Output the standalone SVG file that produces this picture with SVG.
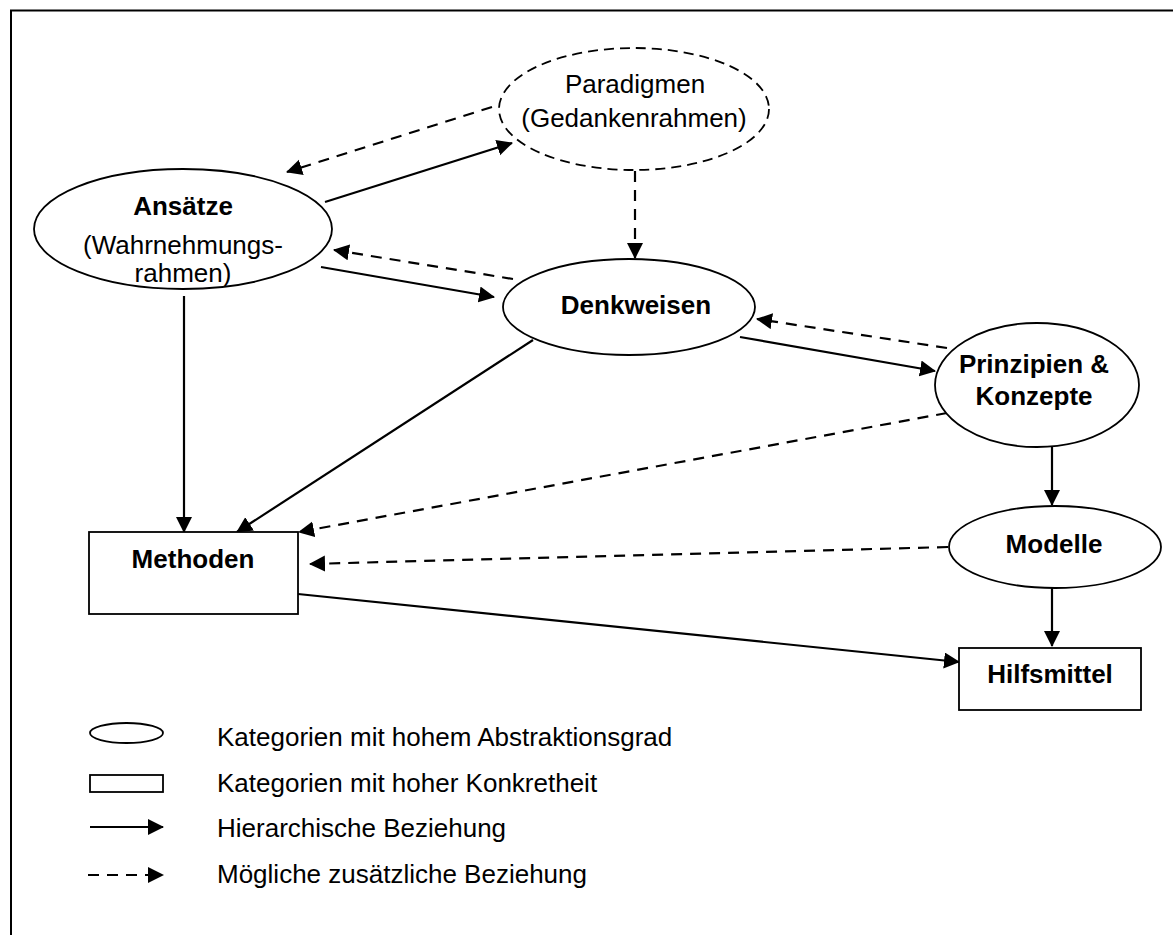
<svg xmlns="http://www.w3.org/2000/svg" width="1173" height="935" viewBox="0 0 1173 935">
  <style>
    text { font-family: "Liberation Sans", Arial, sans-serif; font-size: 26px; fill: #000; }
    .b { font-weight: bold; }
    .m { text-anchor: middle; }
    .node { fill: #fff; stroke: #000; stroke-width: 1.8; }
    .dashnode { fill: #fff; stroke: #000; stroke-width: 1.8; stroke-dasharray: 10 6; }
    .solid { fill: none; stroke: #000; stroke-width: 2.2; marker-end: url(#head); }
    .dash { fill: none; stroke: #000; stroke-width: 2.2; stroke-dasharray: 11 8; marker-end: url(#head); }
  </style>
  <defs>
    <marker id="head" markerUnits="userSpaceOnUse" markerWidth="17" markerHeight="17" refX="15" refY="8" orient="auto">
      <path d="M0,0 L16,8 L0,16 z" fill="#000"/>
    </marker>
  </defs>

  <rect width="1173" height="935" fill="#fff"/>
  <!-- outer frame -->
  <path d="M11,935 V10.5 H1173" fill="none" stroke="#000" stroke-width="2"/>

  <!-- connectors -->
  <g id="connectors">
    <line class="solid" x1="325" y1="202" x2="512" y2="143"/>
    <line class="dash" x1="492" y1="107" x2="287" y2="172"/>
    <line class="dash" x1="635" y1="171" x2="635" y2="258"/>
    <line class="dash" x1="513" y1="279" x2="334" y2="250"/>
    <line class="solid" x1="321" y1="267" x2="494" y2="297"/>
    <line class="dash" x1="947" y1="348" x2="757" y2="319"/>
    <line class="solid" x1="740" y1="337" x2="935" y2="371"/>
    <line class="solid" x1="184" y1="296" x2="184" y2="532"/>
    <line class="solid" x1="533" y1="340" x2="237" y2="532"/>
    <line class="dash" x1="947" y1="413" x2="299" y2="532"/>
    <line class="dash" x1="948" y1="547" x2="310" y2="564"/>
    <line class="solid" x1="298" y1="594" x2="959" y2="662"/>
    <line class="solid" x1="1052" y1="447" x2="1052" y2="505"/>
    <line class="solid" x1="1052" y1="588" x2="1052" y2="646"/>
  </g>

  <g id="paradigmen">
    <ellipse class="dashnode" cx="634" cy="109" rx="135" ry="61"/>
    <text class="m" x="635" y="93">Paradigmen</text>
    <text class="m" x="634" y="127">(Gedankenrahmen)</text>
  </g>

  <g id="ansaetze">
    <ellipse class="node" cx="183" cy="229" rx="149" ry="60"/>
    <text class="m b" x="183" y="215">Ansätze</text>
    <text class="m" x="183" y="254">(Wahrnehmungs-</text>
    <text class="m" x="183" y="282">rahmen)</text>
  </g>

  <g id="denkweisen">
    <ellipse class="node" cx="629" cy="307" rx="126" ry="48"/>
    <text class="m b" x="636" y="314">Denkweisen</text>
  </g>

  <g id="prinzipien">
    <ellipse class="node" cx="1037" cy="385" rx="102" ry="62"/>
    <text class="m b" x="1034" y="373">Prinzipien &amp;</text>
    <text class="m b" x="1034" y="405">Konzepte</text>
  </g>

  <g id="methoden">
    <rect class="node" x="89" y="532" width="209" height="82"/>
    <text class="m b" x="193" y="568">Methoden</text>
  </g>

  <g id="modelle">
    <ellipse class="node" cx="1055" cy="547" rx="106" ry="41"/>
    <text class="m b" x="1054" y="553">Modelle</text>
  </g>

  <g id="hilfsmittel">
    <rect class="node" x="959" y="648" width="182" height="62"/>
    <text class="m b" x="1050" y="683">Hilfsmittel</text>
  </g>

  <!-- legend -->
  <g id="legend">
    <ellipse class="node" cx="126.5" cy="733" rx="36.5" ry="10"/>
    <rect class="node" x="90" y="775" width="73" height="17"/>
    <line class="solid" x1="90" y1="827" x2="163" y2="827"/>
    <line class="dash" x1="88" y1="875" x2="163" y2="875"/>
    <text x="217" y="746">Kategorien mit hohem Abstraktionsgrad</text>
    <text x="217" y="792">Kategorien mit hoher Konkretheit</text>
    <text x="217" y="837">Hierarchische Beziehung</text>
    <text x="217" y="883">Mögliche zusätzliche Beziehung</text>
  </g>
</svg>
